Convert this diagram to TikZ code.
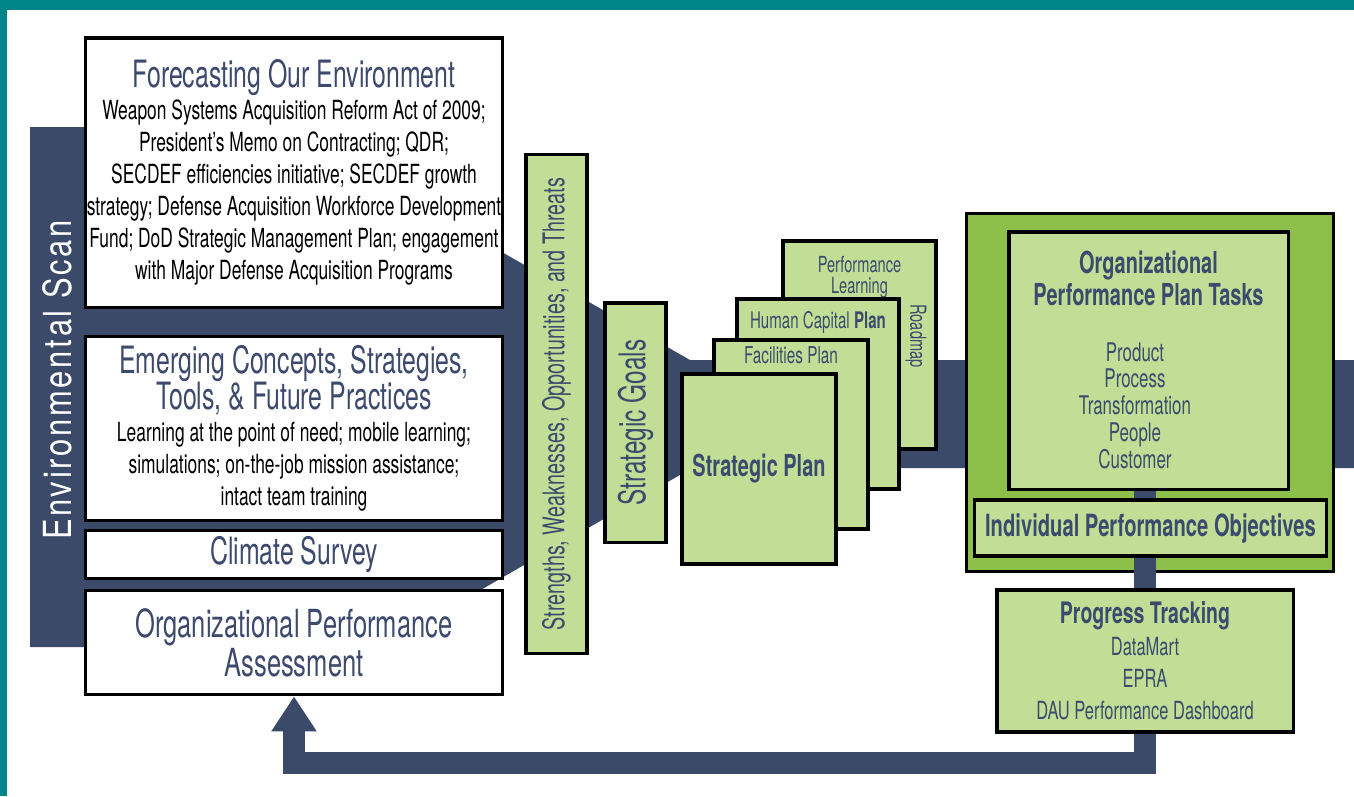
\documentclass[tikz,border=0pt]{standalone}
\usepackage{fontspec}
\setmainfont{TeX Gyre Heros}[FakeStretch=0.66]
\newfontfamily\scanfont{TeX Gyre Heros}[FakeStretch=0.8, LetterSpace=7]
\usepackage{tikz}
\usetikzlibrary{positioning,arrows.meta}

\definecolor{scanblue}{HTML}{3B4A69}
\definecolor{titleblue}{HTML}{3D4A6D}
\definecolor{framecyan}{HTML}{00868A}
\definecolor{palegreen}{HTML}{C2DE96}
\definecolor{leafgreen}{HTML}{8CC04B}

\newcommand{\fsz}[2]{\fontsize{#1}{#2}\selectfont}
\newcommand{\boxhead}[1]{{\fsz{10.7}{9.1}\color{titleblue}#1}}

\begin{document}
\begin{tikzpicture}[x=0.01cm, y=-0.01cm,
whitebox/.style={draw=black, line width=0.9pt, fill=white, align=center, inner sep=0pt},
greenbox/.style={draw=black, line width=0.9pt, fill=palegreen, text=titleblue, align=center, inner sep=0pt},
boxlabel/.style={text=titleblue, align=center, inner sep=0pt},
link/.style={draw=scanblue, line width=0.22cm}
]
    \useasboundingbox (0,0) rectangle (1354,796);
    \fill[white] (0,0) rectangle (1354,796);

    %Frame and scan funnel
    \fill[framecyan] (0,0) rectangle (1354,10);
    \fill[framecyan] (0,0) rectangle (7,796);
    \fill[scanblue] (30,127) -- (284,127) -- (690,360) -- (1354,360)
        -- (1354,468) -- (692,468) -- (382,647) -- (30,647) -- cycle;
    \node[rotate=90, text=white, font=\scanfont\fsz{11}{12}]
        (scan) at (57,380) {Environmental Scan};

    %Nodes
    \node[whitebox, minimum width=4.16cm, minimum height=2.69cm, font=\fsz{7.5}{9.1}]
        (forecast) at (294,172.5)
        {\boxhead{Forecasting Our Environment}\\
         Weapon Systems Acquisition Reform Act of 2009;\\
         President’s Memo on Contracting; QDR;\\
         SECDEF efficiencies initiative; SECDEF growth\\
         strategy; Defense Acquisition Workforce Development\\
         Fund; DoD Strategic Management Plan; engagement\\
         with Major Defense Acquisition Programs};
    \node[whitebox, minimum width=4.16cm, minimum height=1.84cm, font=\fsz{7.5}{9.1}]
        (emerging) [below=0.26cm of forecast]
        {\boxhead{Emerging Concepts, Strategies,}\\[-1pt]
         \boxhead{Tools, \& Future Practices}\\
         Learning at the point of need; mobile learning;\\
         simulations; on-the-job mission assistance;\\
         intact team training};
    \node[whitebox, minimum width=4.16cm, minimum height=0.48cm, font=\fsz{10.7}{12}, text=titleblue]
        (climate) [below=0.07cm of emerging] {Climate Survey};
    \node[whitebox, minimum width=4.16cm, minimum height=1.04cm, font=\fsz{11}{10}, text=titleblue]
        (opa) [below=0.09cm of climate] {Organizational Performance\\[-0.5pt]Assessment};

    \node[greenbox, rotate=90, minimum width=4.98cm, minimum height=0.61cm, font=\fsz{8.5}{10}]
        (swot) at (556.5,404) {Strengths, Weaknesses, Opportunities, and Threats};
    \node[greenbox, rotate=90, minimum width=2.39cm, minimum height=0.61cm, font=\fsz{10.5}{12}]
        (goals) at (635.5,422.5) {Strategic Goals};

    \node[greenbox, minimum width=1.53cm, minimum height=2.08cm] (roadmap) at (859.5,345) {};
    \node[boxlabel, font=\fsz{6.3}{6}] (learning) [below=0.16cm of roadmap.north] {Performance\\Learning};
    \node[boxlabel, rotate=-90, font=\fsz{6.3}{7}] (roadlabel) at (916,336) {Roadmap};
    \node[greenbox, minimum width=1.62cm, minimum height=1.90cm] (capital) at (818,394) {};
    \node[boxlabel, font=\fsz{6.5}{7}] (caplabel) [below=0.13cm of capital.north] {Human Capital \textbf{Plan}};
    \node[greenbox, minimum width=1.54cm, minimum height=1.89cm] (facility) at (791,434.5) {};
    \node[boxlabel, font=\fsz{6.6}{7}] (faclabel) [below=0.07cm of facility.north] {Facilities Plan};
    \node[greenbox, minimum width=1.54cm, minimum height=1.90cm, font=\bfseries\fsz{8.6}{10}]
        (splan) at (759,469) {Strategic Plan};

    \node[draw=black, line width=0.9pt, fill=leafgreen, minimum width=3.66cm, minimum height=3.57cm]
        (taskframe) at (1150,392.5) {};
    \node[greenbox, minimum width=2.79cm, minimum height=2.57cm] (tasks) at (1148.5,360.5) {};
    \node[boxlabel, font=\bfseries\fsz{8.6}{9.1}] (taskhead) [below=0.2cm of tasks.north]
        {Organizational\\Performance Plan Tasks};
    \node[boxlabel, font=\fsz{7.3}{7.6}] (tasklist) at (1135,405.5)
        {Product\\Process\\Transformation\\People\\Customer};
    \node[greenbox, minimum width=3.51cm, minimum height=0.56cm, font=\bfseries\fsz{8.7}{10}]
        (ipo) at (1150.5,528) {Individual Performance Objectives};
    \node[greenbox, minimum width=2.96cm, minimum height=1.42cm, font=\fsz{7.1}{9.1}]
        (track) at (1145,661)
        {{\bfseries\fsz{8.4}{9.1}Progress Tracking}\\DataMart\\EPRA\\DAU Performance Dashboard};

    %Lines
    \draw[link] (tasks.south -| track) -- (ipo.north -| track);
    \draw[link] (ipo.south -| track) -- (track.north);
    \draw[link, -{Triangle[width=0.43cm, length=0.35cm]}]
        (track.south) -- ++(0,29) -| (opa.south);
\end{tikzpicture}
\end{document}
